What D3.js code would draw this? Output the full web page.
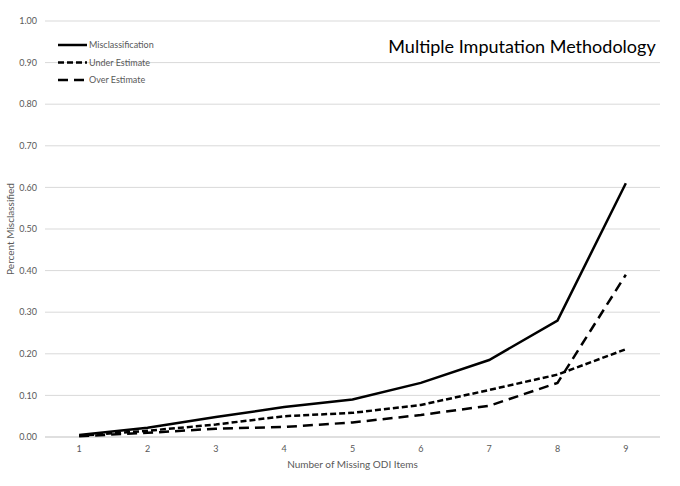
<!DOCTYPE html>
<html><head><meta charset="utf-8">
<script src="https://cdn.jsdelivr.net/npm/d3@7"></script>
<style>body{margin:0;background:#fff;font-family:Lato,"Open Sans",sans-serif;}</style>
</head><body><div id="chart"></div>
<script>
// data
const items = [1, 2, 3, 4, 5, 6, 7, 8, 9];
const misclassification = [0.005, 0.022, 0.048, 0.072, 0.090, 0.130, 0.185, 0.280, 0.610];
const underEstimate = [0.003, 0.015, 0.030, 0.050, 0.058, 0.077, 0.113, 0.150, 0.211];
const overEstimate = [0.002, 0.010, 0.020, 0.024, 0.035, 0.053, 0.075, 0.130, 0.390];
const yTicks = d3.range(0, 1.001, 0.1);

const width = 680, height = 486;
let margin = {top: 21, right: 20, bottom: 49, left: 45};
let innerWidth = width - margin.left - margin.right;
let innerHeight = height - margin.top - margin.bottom;

let svg = d3.select("#chart").append("svg").attr("width", width).attr("height", height);
let g = svg.append("g").attr("transform", "translate(" + margin.left + "," + margin.top + ")");

let x = d3.scalePoint().domain(items).range([0, innerWidth]).padding(0.5);
let y = d3.scaleLinear().domain([0, 1]).range([innerHeight, 0]);

// gridlines
g.selectAll(".grid").data(yTicks).join("line")
  .attr("x1", 0).attr("x2", innerWidth)
  .attr("y1", d => y(d)).attr("y2", d => y(d))
  .attr("stroke", d => d === 0 ? "#bfbfbf" : "#d9d9d9").attr("stroke-width", 1);

// y tick labels
g.selectAll(".ylab").data(yTicks).join("text")
  .attr("x", -8).attr("y", d => y(d)).attr("dy", "0.35em")
  .attr("text-anchor", "end").attr("font-size", 9).attr("fill", "#595959")
  .text(d => d3.format(".2f")(d));

// x tick labels
g.selectAll(".xlab").data(items).join("text")
  .attr("x", d => x(d)).attr("y", innerHeight + 15)
  .attr("text-anchor", "middle").attr("font-size", 9).attr("fill", "#595959")
  .text(d => d);

// axis titles
svg.append("text").attr("x", margin.left + innerWidth / 2).attr("y", 468)
  .attr("text-anchor", "middle").attr("font-size", 10).attr("fill", "#595959")
  .text("Number of Missing ODI Items");
svg.append("text").attr("transform", "translate(14," + (margin.top + innerHeight / 2) + ") rotate(-90)")
  .attr("text-anchor", "middle").attr("font-size", 10).attr("fill", "#595959")
  .text("Percent Misclassified");

// title
svg.append("text").attr("x", 522).attr("y", 53).attr("text-anchor", "middle")
  .attr("font-size", 18).attr("fill", "#000").text("Multiple Imputation Methodology");

const series = [
  {name: "Misclassification", values: misclassification, dash: null},
  {name: "Under Estimate", values: underEstimate, dash: "6,3"},
  {name: "Over Estimate", values: overEstimate, dash: "10,6"}
];

let line = d3.line().x((d, i) => x(items[i])).y(d => y(d));

g.selectAll(".series").data(series).join("path")
  .attr("fill", "none").attr("stroke", "#000").attr("stroke-width", 2.5)
  .attr("stroke-dasharray", d => d.dash)
  .attr("d", d => line(d.values));

// legend
let leg = svg.append("g").selectAll("g").data(series).join("g")
  .attr("transform", (d, i) => "translate(58," + (45 + i * 17.5) + ")");
leg.append("line").attr("x1", 0).attr("x2", 29).attr("stroke", "#000").attr("stroke-width", 2.5)
  .attr("stroke-dasharray", d => d.dash);
leg.append("text").attr("x", 31).attr("dy", "0.35em").attr("font-size", 9).attr("fill", "#595959")
  .text(d => d.name);
</script></body></html>
